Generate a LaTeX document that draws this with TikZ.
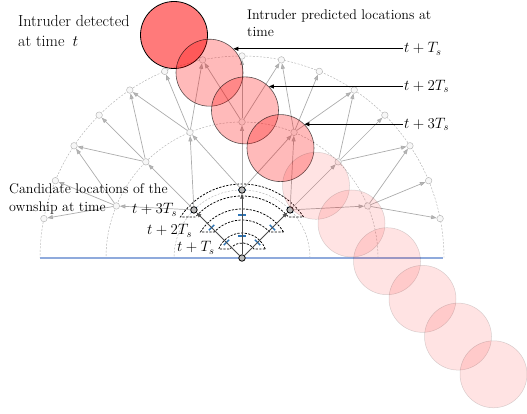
\documentclass[tikz,border=0pt]{standalone}
\usepackage{fix-cm}
\usetikzlibrary{arrows.meta,calc}
\definecolor{tickblue}{RGB}{46,117,182}
\definecolor{baseblue}{RGB}{143,170,220}
\begin{document}
\begin{tikzpicture}[x=1pt,y=1pt,
  tnode/.style={circle,draw=gray!55,fill=gray!6,line width=0.5pt,inner sep=0pt,minimum size=6.5pt},
  onode/.style={circle,draw=black,fill=gray!55,line width=0.8pt,inner sep=0pt,minimum size=6.5pt},
  tarrow/.style={draw=gray!65,line width=0.7pt,-{Triangle[length=5.5pt,width=4pt,fill=gray!55]}},
  oarrow/.style={draw=black!70,line width=0.9pt,-{Triangle[length=5pt,width=3.6pt]}},
  guide/.style={draw=gray!60,line width=0.45pt,dash pattern=on 2pt off 1.5pt},
  band/.style={draw=black,line width=0.75pt,dash pattern=on 2.2pt off 1.4pt},
  btick/.style={draw=tickblue,line width=1.4pt},
  ibig/.style={circle,inner sep=0pt,minimum size=67pt,fill=red,fill opacity=0.52,draw=black,line width=0.8pt},
  imid/.style={circle,inner sep=0pt,minimum size=67pt,fill=red,fill opacity=0.27,draw=black,draw opacity=0.65,line width=0.6pt},
  ifar/.style={circle,inner sep=0pt,minimum size=67pt,fill=red,fill opacity=0.11,draw=black,draw opacity=0.15,line width=0.5pt},
  larrow/.style={draw=black,line width=0.9pt,-{Triangle[length=5pt,width=4pt]}},
  txtA/.style={font=\fontsize{16}{19}\selectfont,inner sep=0pt,anchor=base west},
  txtB/.style={font=\fontsize{14}{17}\selectfont,inner sep=0pt,anchor=base west},
  mlab/.style={font=\fontsize{15}{18}\selectfont,inner sep=1pt,anchor=west}
]
\useasboundingbox (0,0) rectangle (527,414);

\begin{scope}[shift={(242,156)}]
  % guide arcs
  \foreach \r in {68,136,202}
    \draw[guide] (\r,0) arc[start angle=0,end angle=180,radius=\r pt];
  % baseline
  \draw[baseblue,line width=1.3pt] (-202,0) -- (201,0);
  % candidate bands of the ownship
  \foreach \a/\b/\h in {15/25/9, 38/49/26, 62/74/41} {
    \pgfmathsetmacro\ao{asin(\h/\b)}
    \pgfmathsetmacro\ai{asin(\h/\a)}
    \draw[band] (\ao:\b) arc[start angle=\ao,end angle={180-\ao},radius=\b pt]
      -- ({180-\ai}:\a) arc[start angle={180-\ai},end angle=\ai,radius=\a pt] -- cycle;
  }
  % blue ticks
  \foreach \t in {45,90,135} {
    \begin{scope}[rotate=\t]
      \foreach \r in {22,43,68} \draw[btick] (\r,-3.8) -- (\r,3.8);
    \end{scope}
  }
  % tree nodes
  \foreach \j in {1,...,7} \node[tnode] (b\j) at ({22.5*\j}:136) {};
  \foreach \j in {1,...,15} \node[tnode] (c\j) at ({11.25*\j}:202) {};
  \foreach \j in {1,2,3} \node[onode] (a\j) at ({45*\j}:68) {};
  \node[onode] (o) at (0,0) {};
  % tree arrows
  \foreach \j in {1,2,3} {
    \foreach \d in {-1,0,1} {
      \pgfmathtruncatemacro\k{2*\j+\d}
      \draw[tarrow] (a\j) -- (b\k);
    }
  }
  \foreach \j in {1,...,7} {
    \foreach \d in {-1,0,1} {
      \pgfmathtruncatemacro\k{2*\j+\d}
      \draw[tarrow] (b\j) -- (c\k);
    }
  }
  \foreach \j in {1,2,3} \draw[oarrow] (o) -- (a\j);
\end{scope}

% intruder circles
\node[ibig] (i0) at (174,379) {};
\foreach \k in {1,2,3}
  \node[imid] (i\k) at ({174+35.5*\k},{379-37.7*\k}) {};
\foreach \k in {4,...,9}
  \node[ifar] (i\k) at ({174+35.5*\k},{379-37.7*\k}) {};

% right labels with arrows
\coordinate (xr) at (403,0);
\node[mlab] (r1) at (i1.45 -| xr) {$t+T_s$};
\node[mlab] (r2) at (i2.45 -| xr) {$t+2T_s$};
\node[mlab] (r3) at (i3.45 -| xr) {$t+3T_s$};
\draw[larrow] (r1.west) -- (i1.45);
\draw[larrow] (r2.west) -- (i2.45);
\draw[larrow] (r3.west) -- (i3.45);

% texts
\node[txtA] (d1) at (18,387) {Intruder detected};
\node[txtA] (d2) at (18,367) {at time\enspace$t$};
\node[txtB] (p1) at (247,394) {Intruder predicted locations at};
\node[txtB] (p2) at (247,377) {time};
\node[txtB] (q1) at (9,220) {Candidate locations of the};
\node[txtB] (q2) at (9,202) {ownship at time};
\node[mlab] (l3) at (131,204) {$t+3T_s$};
\node[mlab] (l2) at (146,183) {$t+2T_s$};
\node[mlab] (l1) at (176,166) {$t+T_s$};
\end{tikzpicture}
\end{document}
